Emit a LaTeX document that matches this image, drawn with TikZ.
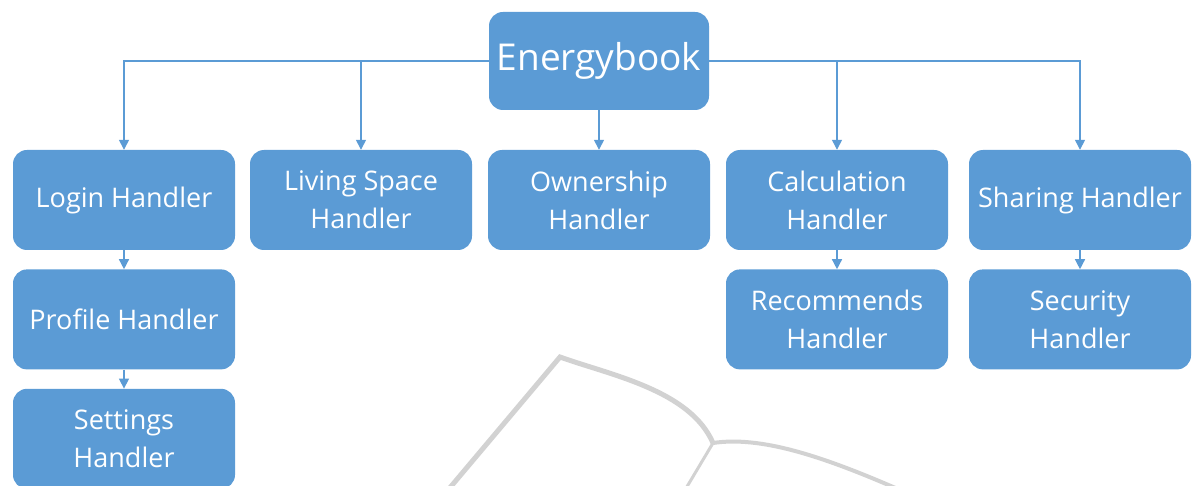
\documentclass[tikz,border=0pt]{standalone}
\usepackage{fontspec}
\setmainfont{Open Sans}
\usetikzlibrary{arrows.meta, positioning}
\definecolor{cblue}{HTML}{5B9BD5}
\definecolor{cwater}{HTML}{D2D2D2}
\tikzset{
  every picture/.style={x=1pt, y=-1pt},
  box/.style={fill=cblue, rounded corners=14pt, align=center, text=white,
    minimum width=222pt, minimum height=100pt, inner sep=2pt,
    font=\fontsize{27}{38}\selectfont},
  link/.style={-{Triangle[length=10pt, width=10pt]}, draw=cblue, line width=1.4pt},
}
\begin{document}
\begin{tikzpicture}[node distance=19pt,
  rootbox/.style={box, minimum width=220pt, minimum height=98pt, font=\fontsize{37}{42}\selectfont},
  wmark/.style={draw=cwater, line width=4pt, line join=miter}]
  \useasboundingbox (0,0) rectangle (1194,486);
  \clip (0,0) rectangle (1194,486);
  % faint book outline behind the boxes
  \draw[wmark, line width=5pt] (448,490) -- (560,357) .. controls (610,375) and (690,390) .. (713,443);
  \draw[wmark] (713,443) .. controls (760,436) and (820,455) .. (900,490);
  \draw[wmark, line width=3pt] (713,443) -- (685,490);
  % top level
  \node[rootbox] (energy) at (599,61) {Energybook};
  % handlers
  \node[box] (login) at (124,200) {Login Handler};
  \node[box] (living) at (361,200) {Living Space\\Handler};
  \node[box] (owner) at (599,200) {Ownership\\Handler};
  \node[box] (calc) at (837,200) {Calculation\\Handler};
  \node[box] (share) at (1080,200) {Sharing Handler};
  \node[box, below=of login] (profile) {Profile Handler};
  \node[box, below=of profile] (settings) {Settings\\Handler};
  \node[box, below=of calc] (recommend) {Recommends\\Handler};
  \node[box, below=of share] (security) {Security\\Handler};
  \foreach \b in {login, living}
    \draw[link] (energy.west) -| (\b.north);
  \foreach \b in {calc, share}
    \draw[link] (energy.east) -| (\b.north);
  \draw[link] (energy) -- (owner);
  \foreach \a/\b in {login/profile, profile/settings, calc/recommend, share/security}
    \draw[link] (\a) -- (\b);
\end{tikzpicture}
\end{document}
